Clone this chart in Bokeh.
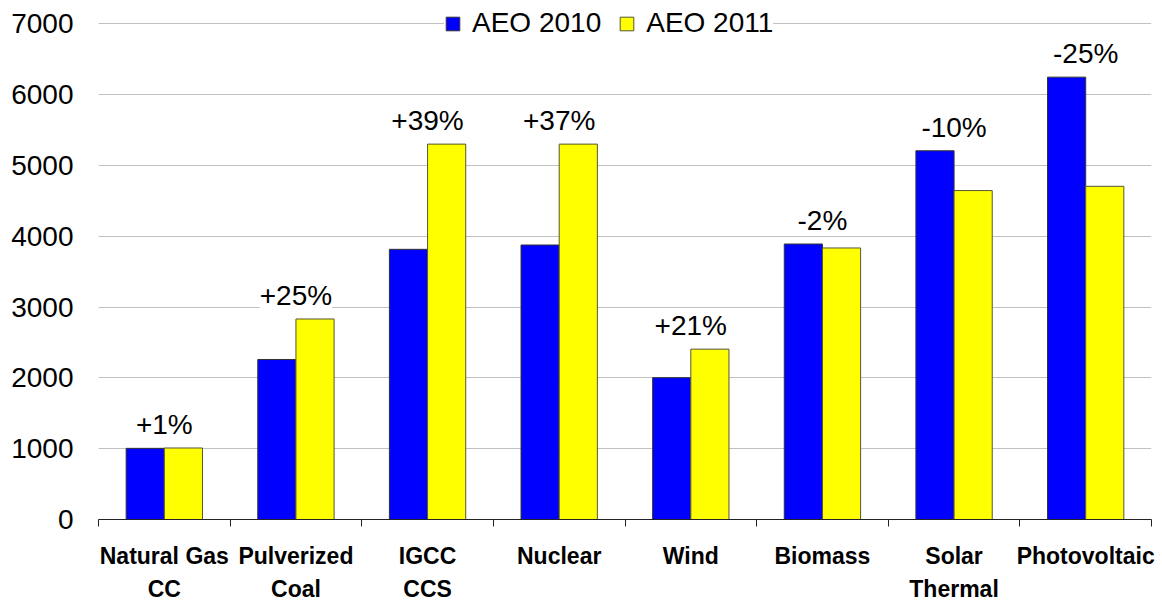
from bokeh.plotting import figure
from bokeh.models import (ColumnDataSource, Range1d, FixedTicker, LabelSet,
                          Legend, LegendItem)
from bokeh.core.properties import value
from bokeh.transform import dodge
from bokeh.embed import file_html
from bokeh.resources import INLINE

categories = ["Natural Gas\nCC", "Pulverized\nCoal", "IGCC\nCCS", "Nuclear",
              "Wind", "Biomass", "Solar\nThermal", "Photovoltaic"]
aeo_2010 = [1005, 2260, 3816, 3877, 2003, 3891, 5208, 6248]
aeo_2011 = [1010, 2832, 5302, 5302, 2406, 3835, 4646, 4706]
change_labels = ["+1%", "+25%", "+39%", "+37%", "+21%", "-2%", "-10%", "-25%"]
y_ticks = [0, 1000, 2000, 3000, 4000, 5000, 6000, 7000]

FONT = "Liberation Sans"
n = len(categories)
centers = [i + 0.5 for i in range(n)]
source = ColumnDataSource(dict(
    x=centers,
    v2010=aeo_2010,
    v2011=aeo_2011,
    top=[max(a, b) for a, b in zip(aeo_2010, aeo_2011)],
    label=change_labels,
))

p = figure(width=1162, height=605, output_backend="svg", toolbar_location=None,
           x_range=Range1d(0, n), y_range=Range1d(0, 7274),
           min_border_left=98, min_border_right=11, min_border_top=4,
           min_border_bottom=84)
p.outline_line_color = None
p.background_fill_color = "white"
p.border_fill_color = "white"

r1 = p.vbar(x=dodge("x", -0.145), top="v2010", width=0.29, source=source,
            fill_color="#0000FF", line_color="#333333", line_width=1)
r2 = p.vbar(x=dodge("x", 0.145), top="v2011", width=0.29, source=source,
            fill_color="#FFFF00", line_color="#555533", line_width=1)

labels = LabelSet(x="x", y="top", text="label", source=source,
                  text_align="center", text_baseline="alphabetic", y_offset=14,
                  text_font=value(FONT), text_font_size=value("28px"),
                  text_color=value("black"),
                  background_fill_color="white")
p.add_layout(labels)

# grid
p.xgrid.grid_line_color = None
p.ygrid.ticker = FixedTicker(ticks=y_ticks)
p.ygrid.grid_line_color = "#c0c0c0"
p.ygrid.grid_line_width = 1

# y axis
p.yaxis.ticker = FixedTicker(ticks=y_ticks)
p.yaxis.axis_line_color = None
p.yaxis.major_tick_line_color = None
p.yaxis.minor_tick_line_color = None
p.yaxis.major_tick_out = 0
p.yaxis.major_tick_in = 0
p.yaxis.major_label_standoff = 25
p.yaxis.major_label_text_font = FONT
p.yaxis.major_label_text_font_size = "28px"
p.yaxis.major_label_text_color = "black"

# x axis
p.xaxis.ticker = FixedTicker(ticks=centers, minor_ticks=list(range(n + 1)))
p.xaxis.major_label_overrides = {c: lab for c, lab in zip(centers, categories)}
p.xaxis.axis_line_color = "#222222"
p.xaxis.major_tick_line_color = None
p.xaxis.major_tick_out = 0
p.xaxis.major_tick_in = 0
p.xaxis.minor_tick_line_color = "#222222"
p.xaxis.minor_tick_out = 7
p.xaxis.minor_tick_in = 0
p.xaxis.major_label_standoff = 16
p.xaxis.major_label_text_font = FONT
p.xaxis.major_label_text_font_style = "bold"
p.xaxis.major_label_text_font_size = "23px"
p.xaxis.major_label_text_color = "black"
p.xaxis.major_label_text_line_height = 1.3

legend = Legend(items=[LegendItem(label="AEO 2010", renderers=[r1]),
                       LegendItem(label="AEO 2011", renderers=[r2])],
                orientation="horizontal", location=(346, 480),
                glyph_width=17, glyph_height=17, label_standoff=11, spacing=17,
                padding=4, margin=0, border_line_color=None,
                background_fill_color="white", background_fill_alpha=1.0,
                label_text_font=FONT, label_text_font_size="28px",
                label_text_color="black")
p.add_layout(legend)

open("out.html", "w").write(file_html(p, INLINE))
